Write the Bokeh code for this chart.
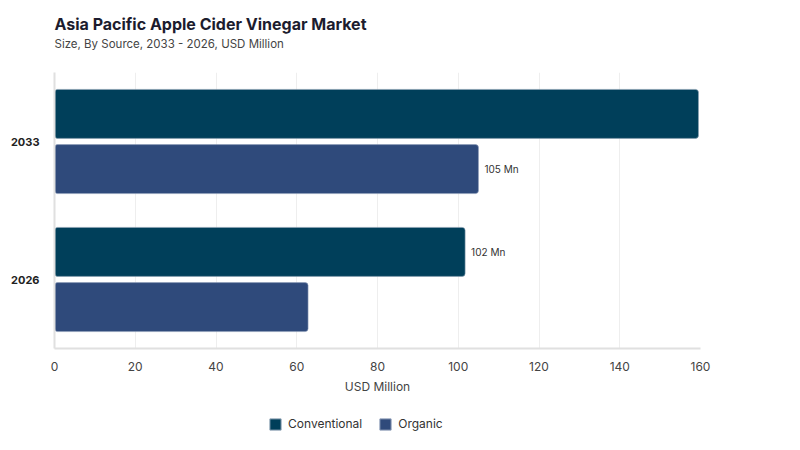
from bokeh.core.properties import value
from bokeh.embed import file_html
from bokeh.layouts import column
from bokeh.models import ColumnDataSource, FactorRange, Legend, Range1d, Title
from bokeh.plotting import figure
from bokeh.resources import INLINE
from bokeh.transform import dodge

years = ["2026", "2033"]
conventional = [101.7, 159.5]
organic = [62.8, 105.0]
conventional_labels = ["102 Mn", ""]
organic_labels = ["", "105 Mn"]
x_ticks = [0, 20, 40, 60, 80, 100, 120, 140, 160]
series_names = ["Conventional", "Organic"]

FONT = "Inter"
CONV_COLOR = "#003f5a"
ORG_COLOR = "#2f4a7b"

source = ColumnDataSource(data=dict(
    year=years,
    conventional=conventional,
    organic=organic,
    conv_label=conventional_labels,
    org_label=organic_labels,
))

p = figure(
    frame_width=646,
    frame_height=276,
    y_range=FactorRange(factors=years, range_padding=0),
    x_range=Range1d(0, 160),
    output_backend="svg",
    toolbar_location=None,
    min_border_left=54,
    min_border_right=100,
    min_border_top=72,
    min_border_bottom=60,
    title=None,
)

p.hbar(y=dodge("year", 0.2, range=p.y_range), right="conventional", height=0.355,
       source=source, fill_color=CONV_COLOR, line_color="#8da2b4", line_width=0.6,
       border_radius=3)
p.hbar(y=dodge("year", -0.2, range=p.y_range), right="organic", height=0.355,
       source=source, fill_color=ORG_COLOR, line_color="#8d9cb8", line_width=0.6,
       border_radius=3)

# value labels
p.text(x="conventional", y=dodge("year", 0.2, range=p.y_range), text="conv_label", source=source,
       x_offset=6, text_baseline="middle", text_font_size="10px", text_color="#333333",
       text_font=value(FONT))
p.text(x="organic", y=dodge("year", -0.2, range=p.y_range), text="org_label", source=source,
       x_offset=6, text_baseline="middle", text_font_size="10px", text_color="#333333",
       text_font=value(FONT))

# titles (later added = further from the frame)
p.add_layout(Title(text=" ", text_font_size="8px"), "above")
p.add_layout(Title(text="Size, By Source, 2033 - 2026, USD Million", text_font=FONT,
                   text_font_size="11.5px", text_font_style="normal", text_color="#444444",
                   align="left", standoff=2), "above")
p.add_layout(Title(text="Asia Pacific Apple Cider Vinegar Market", text_font=FONT,
                   text_font_size="16px", text_font_style="bold", text_color="#1c1c2e",
                   align="left", standoff=0), "above")

p.xaxis.ticker = x_ticks
p.xaxis.axis_label = "USD Million"
p.xaxis.axis_label_text_font = FONT
p.xaxis.axis_label_text_font_style = "normal"
p.xaxis.axis_label_text_font_size = "12px"
p.xaxis.axis_label_text_color = "#444444"
p.xaxis.axis_label_standoff = 5
p.xaxis.major_label_text_font = FONT
p.xaxis.major_label_text_font_size = "12px"
p.xaxis.major_label_text_color = "#444444"
p.xaxis.major_tick_line_color = None
p.xaxis.minor_tick_line_color = None
p.xaxis.axis_line_color = "#e0e0e0"
p.xaxis.axis_line_width = 2
p.xaxis.major_label_standoff = 7

p.yaxis.major_label_text_font = FONT
p.yaxis.major_label_text_font_size = "11px"
p.yaxis.major_label_text_font_style = "bold"
p.yaxis.major_label_text_color = "#222222"
p.yaxis.major_tick_line_color = None
p.yaxis.axis_line_color = "#e0e0e0"
p.yaxis.axis_line_width = 2
p.yaxis.major_label_standoff = 9

p.ygrid.grid_line_color = None
p.xgrid.grid_line_color = "#eeeeee"
p.outline_line_color = None

# legend strip under the chart (its own small figure, so it is not clipped);
# swatch glyphs sit well outside the visible range, only the legend shows them
leg = figure(width=800, height=30, x_axis_type=None, y_axis_type=None,
             output_backend="svg", toolbar_location=None, min_border=0,
             x_range=Range1d(1, 2), y_range=Range1d(0, 1))
leg.outline_line_color = None
leg.grid.grid_line_color = None
swatch = ColumnDataSource(data=dict(y=[-5], right=[-5]))
sw_conv = leg.hbar(y="y", right="right", left=-6, height=1, source=swatch, fill_color=CONV_COLOR,
                   line_color="#8da2b4", border_radius=3)
sw_org = leg.hbar(y="y", right="right", left=-6, height=1, source=swatch, fill_color=ORG_COLOR,
                  line_color="#8d9cb8", border_radius=3)
legend = Legend(items=[(series_names[0], [sw_conv]), (series_names[1], [sw_org])],
                orientation="horizontal", location=(214, 7), label_text_font=FONT,
                label_text_font_size="12px", label_text_color="#333333", glyph_width=14,
                glyph_height=14, spacing=16, label_standoff=6, border_line_color=None,
                background_fill_alpha=0, margin=0, padding=4)
leg.add_layout(legend)

open("out.html", "w").write(file_html(column(p, leg, spacing=0), INLINE))
